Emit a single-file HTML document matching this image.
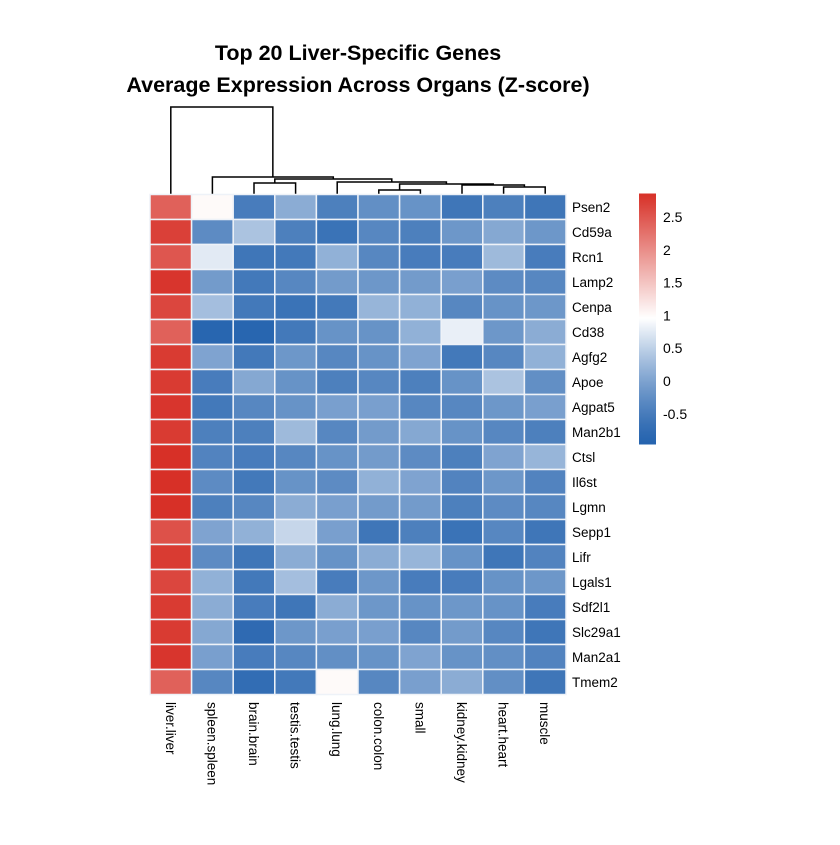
<!DOCTYPE html>
<html><head><meta charset="utf-8">
<style>
body{margin:0;background:#fff;}
svg text{font-family:"Liberation Sans",sans-serif;}
</style></head>
<body>
<svg id="chart" width="840" height="840" xmlns="http://www.w3.org/2000/svg">
<rect width="840" height="840" fill="#fff"/>
<text x="358" y="60" text-anchor="middle" font-size="21.5" font-weight="bold">Top 20 Liver-Specific Genes</text>
<text x="358" y="92" text-anchor="middle" font-size="21.5" font-weight="bold">Average Expression Across Organs (Z-score)</text>
<g id="dendro"></g>
<g id="cells"></g>
<g id="rowlabels"></g>
<g id="collabels"></g>
<g id="legend"></g>
</svg>
<script>
const organs=["liver.liver","spleen.spleen","brain.brain","testis.testis","lung.lung","colon.colon","small","kidney.kidney","heart.heart","muscle"];
const genes=["Psen2","Cd59a","Rcn1","Lamp2","Cenpa","Cd38","Agfg2","Apoe","Agpat5","Man2b1","Ctsl","Il6st","Lgmn","Sepp1","Lifr","Lgals1","Sdf2l1","Slc29a1","Man2a1","Tmem2"];
const values=[
[2.4,1.0,-0.5,0.1,-0.45,-0.25,-0.2,-0.6,-0.45,-0.6],
[2.7,-0.3,0.35,-0.45,-0.65,-0.35,-0.45,-0.15,0.05,-0.15],
[2.5,0.75,-0.6,-0.55,0.15,-0.35,-0.5,-0.5,0.25,-0.5],
[2.8,-0.1,-0.55,-0.35,-0.1,-0.15,-0.1,-0.05,-0.3,-0.35],
[2.65,0.3,-0.55,-0.65,-0.55,0.2,0.15,-0.35,-0.2,-0.15],
[2.4,-0.9,-0.9,-0.55,-0.2,-0.2,0.15,0.8,-0.15,0.1],
[2.75,0.0,-0.55,-0.15,-0.35,-0.2,0.0,-0.55,-0.35,0.15],
[2.75,-0.5,0.05,-0.2,-0.45,-0.35,-0.45,-0.2,0.35,-0.25],
[2.8,-0.55,-0.35,-0.2,-0.05,-0.05,-0.35,-0.35,-0.15,-0.05],
[2.75,-0.45,-0.45,0.25,-0.35,-0.1,0.05,-0.2,-0.35,-0.45],
[2.85,-0.4,-0.5,-0.35,-0.2,-0.1,-0.3,-0.45,0.0,0.2],
[2.85,-0.3,-0.55,-0.2,-0.3,0.15,0.0,-0.4,-0.15,-0.4],
[2.85,-0.45,-0.35,0.1,-0.05,-0.1,-0.1,-0.45,-0.3,-0.35],
[2.55,0.0,0.15,0.55,-0.05,-0.6,-0.45,-0.65,-0.35,-0.6],
[2.75,-0.3,-0.6,0.1,-0.2,0.1,0.2,-0.2,-0.6,-0.4],
[2.65,0.15,-0.55,0.3,-0.5,-0.15,-0.5,-0.5,-0.2,-0.15],
[2.75,0.1,-0.5,-0.6,0.1,-0.15,-0.2,-0.15,-0.2,-0.5],
[2.75,0.05,-0.8,-0.15,-0.05,-0.05,-0.35,-0.1,-0.35,-0.6],
[2.8,-0.05,-0.5,-0.35,-0.25,-0.2,0.0,-0.2,-0.25,-0.4],
[2.4,-0.35,-0.75,-0.55,1.0,-0.35,-0.05,0.1,-0.25,-0.6]];
const legendTicks=[-0.5,0,0.5,1,1.5,2,2.5];
const vmin=-0.96, vmid=0.95, vmax=2.85;
const NS="http://www.w3.org/2000/svg";
function mk(tag,attrs,parent){const e=document.createElementNS(NS,tag);for(const k in attrs)e.setAttribute(k,attrs[k]);parent.appendChild(e);return e;}
function lerp(a,b,t){return a.map((v,i)=>Math.round(v+(b[i]-v)*t));}
function color(v){const lo=[38,100,175],mid=[255,255,255],hi=[215,48,39];let c;
 if(v<=vmid){const t=Math.max(0,(v-vmin)/(vmid-vmin));c=lerp(lo,mid,Math.pow(t,1.3));}else{c=lerp(mid,hi,Math.min(1,(v-vmid)/(vmax-vmid)));}
 return `rgb(${c[0]},${c[1]},${c[2]})`;}
const x0=150,y0=194.5,cw=41.6,ch=25;
const xC=i=>x0+cw*(i+0.5);
const cells=document.getElementById('cells');
values.forEach((row,r)=>row.forEach((v,c)=>{
 const e=mk('rect',{x:x0+c*cw,y:y0+r*ch,width:cw,height:ch,fill:color(v),stroke:'#eef2f8','stroke-width':1.5},cells);
 
 
}));
const rl=document.getElementById('rowlabels');
genes.forEach((g,r)=>{const t=mk('text',{x:572,y:y0+r*ch+ch/2+5,'font-size':13.5},rl);t.textContent=g;
 
 });
const cl=document.getElementById('collabels');
organs.forEach((o,c)=>{const x=xC(c)-5,y=702;const t=mk('text',{x:x,y:y,'font-size':13.5,transform:`rotate(90 ${x} ${y})`},cl);t.textContent=o;
 
 });
const merges=[[5,6,190],[8,9,187],[7,'hm',185],['cs','khm',184],[4,'ckhm',182],[2,3,183],['bt','rest',179],[1,'brest',177],[0,'all',107]];
const names=['cs','hm','khm','ckhm','rest','bt','brest','all','root'];
const dg=document.getElementById('dendro');const pos={};
organs.forEach((o,i)=>pos[i]={x:xC(i),y:194});
merges.forEach((m,i)=>{const a=pos[m[0]],b=pos[m[1]],y=m[2];
 const p=mk('path',{d:`M${a.x},${a.y}V${y}H${b.x}V${b.y}`,fill:'none',stroke:'#000','stroke-width':1.5},dg);
 
 
 pos[names[i]]={x:(a.x+b.x)/2,y:y};});
const lg=document.getElementById('legend');const ly0=194,ly1=444,lx=639,lw=17;
const ly=v=>ly1-(v-vmin)/(vmax-vmin)*(ly1-ly0);
for(let i=0;i<125;i++){const v=vmin+(vmax-vmin)*i/125;const y=ly(v);
 const r=mk('rect',{x:lx,y:y-(ly1-ly0)/125-0.5,width:lw,height:(ly1-ly0)/125+1,fill:color(v)},lg);
 
 }
legendTicks.forEach(t=>{const e=mk('text',{x:663,y:ly(t)+5,'font-size':14},lg);e.textContent=t;
 
 });
</script>
</body></html>
